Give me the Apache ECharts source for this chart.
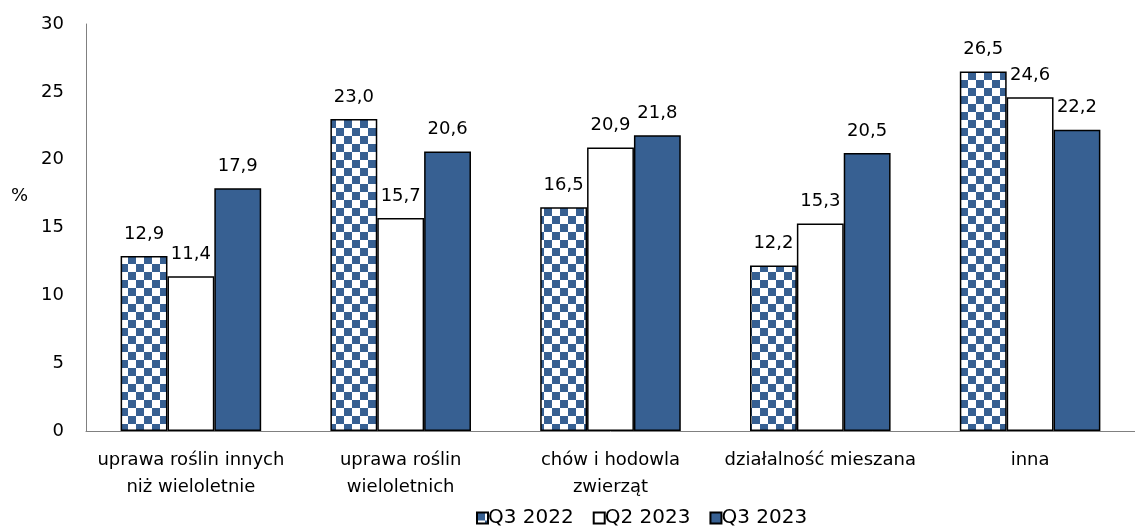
<!DOCTYPE html>
<html><head><meta charset="utf-8">
<script src="https://cdn.jsdelivr.net/npm/echarts@6/dist/echarts.min.js"></script>
<style>html,body{margin:0;padding:0;background:#fff}#c{width:1135px;height:530px}</style>
</head><body><div id="c"></div>
<script>
const categories = ["uprawa roślin innych\nniż wieloletnie", "uprawa roślin\nwieloletnich", "chów i hodowla\nzwierząt", "działalność mieszana", "inna"];
const seriesNames = ["Q3 2022", "Q2 2023", "Q3 2023"];
const q3_2022 = [12.9, 23.0, 16.5, 12.2, 26.5];
const q2_2023 = [11.4, 15.7, 20.9, 15.3, 24.6];
const q3_2023 = [17.9, 20.6, 21.8, 20.5, 22.2];
const yTicks = [0, 5, 10, 15, 20, 25, 30];

const BLUE = '#376092';
const FONT = 'DejaVu Sans';
const FS = 18;

const tile = document.createElement('canvas');
tile.width = 16; tile.height = 16;
const tc = tile.getContext('2d');
tc.fillStyle = '#fff'; tc.fillRect(0,0,16,16);
tc.fillStyle = BLUE; tc.fillRect(0,0,8,8); tc.fillRect(8,8,8,8);
const pattern = { image: tile, repeat: 'repeat' };

const fmt = p => p.value.toFixed(1).replace('.', ',');
const lbl = { show: true, position: 'top', distance: 13, formatter: fmt, color: '#000', fontFamily: FONT, fontSize: FS };

const chart = echarts.init(document.getElementById('c'), null, { renderer: 'canvas' });
chart.setOption({
  animation: false,
  backgroundColor: '#fff',
  textStyle: { fontFamily: FONT },
  grid: { left: 86, top: 24, width: 1056, height: 407, containLabel: false },
  legend: {
    top: 508, left: 476, itemWidth: 11, itemHeight: 11, itemGap: 19, padding: 0,
    textStyle: { fontFamily: FONT, fontSize: 20, color: '#000', padding: [0,0,0,-5] },
    data: seriesNames.map(n => ({ name: n, icon: 'rect' }))
  },
  xAxis: {
    type: 'category', data: categories,
    axisLine: { lineStyle: { color: '#808080', width: 1 } },
    axisTick: { show: false },
    axisLabel: { color: '#000', fontFamily: FONT, fontSize: FS, margin: 16, lineHeight: 27, interval: 0 }
  },
  yAxis: {
    type: 'value', min: yTicks[0], max: yTicks[yTicks.length-1], interval: 5,
    axisLine: { show: true, lineStyle: { color: '#808080', width: 1 } },
    axisTick: { show: false },
    splitLine: { show: false },
    axisLabel: { color: '#000', fontFamily: FONT, fontSize: FS, margin: 22 }
  },
  graphic: [{ type: 'text', left: 11, top: 187, style: { text: '%', font: FS + 'px "' + FONT + '"', fill: '#000' } }],
  series: [
    { name: seriesNames[0], type: 'bar', data: q3_2022, barGap: '0%', barCategoryGap: '33%',
      itemStyle: { color: pattern, borderColor: '#000', borderWidth: 1.5 }, label: lbl },
    { name: seriesNames[1], type: 'bar', data: q2_2023,
      itemStyle: { color: '#fff', borderColor: '#000', borderWidth: 1.5 }, label: lbl },
    { name: seriesNames[2], type: 'bar', data: q3_2023,
      itemStyle: { color: BLUE, borderColor: '#000', borderWidth: 1.5 }, label: lbl }
  ]
});
</script></body></html>
